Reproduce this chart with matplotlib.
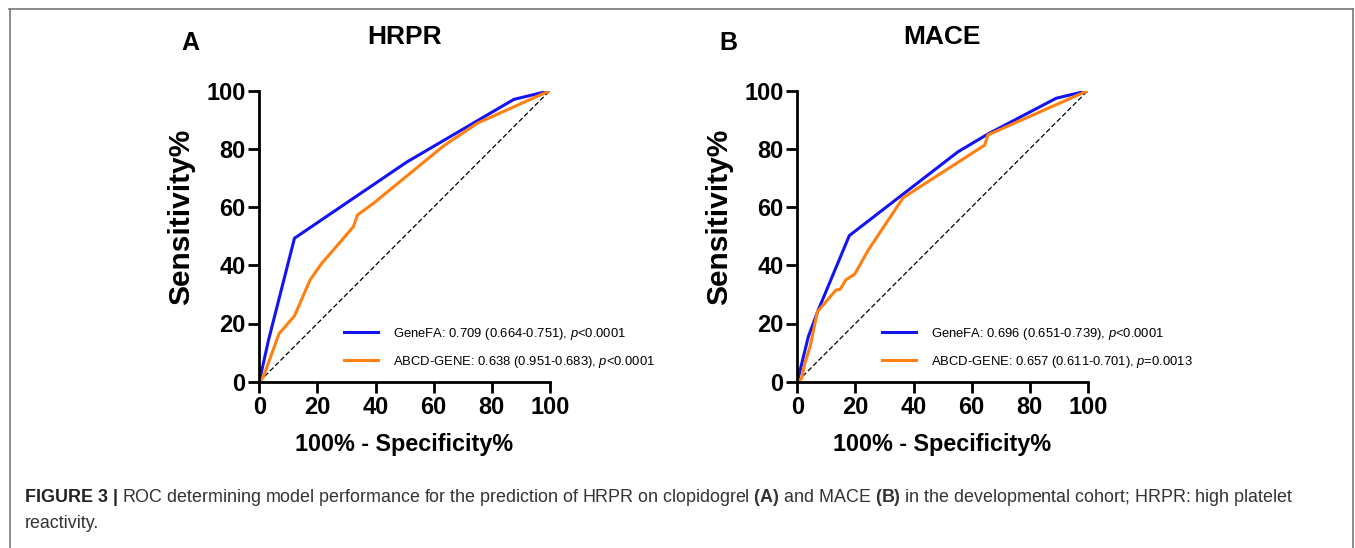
import matplotlib
matplotlib.use("Agg")
import matplotlib.pyplot as plt
from matplotlib.lines import Line2D

plt.rcParams['font.family'] = ['Liberation Sans', 'DejaVu Sans']
plt.rcParams['mathtext.fontset'] = 'custom'
plt.rcParams['mathtext.rm'] = 'Liberation Sans'
plt.rcParams['mathtext.it'] = 'Liberation Sans:italic'
plt.rcParams['mathtext.bf'] = 'Liberation Sans:bold'

# ROC curves (x = 100% - specificity, y = sensitivity)
hrpr_genefa_x = [0, 3.1, 12.1, 50.8, 87.6, 100]
hrpr_genefa_y = [0, 14, 49.3, 75.5, 97, 100]
hrpr_abcd_x = [0, 1.4, 6.8, 12.1, 17.5, 21.5, 27, 32.4, 33.8, 39.3, 63.4, 75, 100]
hrpr_abcd_y = [0, 1.7, 16.5, 22.6, 35, 40.7, 47, 53.3, 57.3, 61.3, 81, 88.8, 100]

mace_genefa_x = [0, 3.8, 7.2, 17.9, 55.3, 65.6, 89.1, 100]
mace_genefa_y = [0, 15.5, 24.6, 50.2, 79, 85.1, 97.4, 100]
mace_abcd_x = [0, 1.5, 2.6, 4.4, 6.9, 13.3, 14.7, 16.7, 19.8, 24.4, 36.4, 64.5, 65.6, 100]
mace_abcd_y = [0, 1.1, 6.3, 12, 24, 31.5, 31.7, 35, 37, 45.2, 63.2, 81.3, 84.8, 100]

ticks = [0, 20, 40, 60, 80, 100]

panels = [
    ("A", "HRPR", hrpr_genefa_x, hrpr_genefa_y, hrpr_abcd_x, hrpr_abcd_y,
     "GeneFA: 0.709 (0.664-0.751), $p$<0.0001",
     "ABCD-GENE: 0.638 (0.951-0.683), $p$<0.0001"),
    ("B", "MACE", mace_genefa_x, mace_genefa_y, mace_abcd_x, mace_abcd_y,
     "GeneFA: 0.696 (0.651-0.739), $p$<0.0001",
     "ABCD-GENE: 0.657 (0.611-0.701), $p$=0.0013"),
]

W, H = 1355, 548
fig = plt.figure(figsize=(W / 100, H / 100), dpi=100)

blue = '#1414f0'
orange = '#ff7f10'

lefts = [259.3, 797.3]
for i, (letter, title, gx, gy, ax_, ay, lab1, lab2) in enumerate(panels):
    left = lefts[i]
    ax = fig.add_axes([left / W, (H - 381.7) / H, 290.5 / W, 291 / H])
    ax.plot([0, 100], [0, 100], color='black', lw=0.9, ls=(0, (4, 2)))
    ax.plot(gx, gy, color=blue, lw=2.2, label=lab1)
    ax.plot(ax_, ay, color=orange, lw=2.2, label=lab2)
    ax.set_xlim(0, 100)
    ax.set_ylim(0, 100)
    ax.set_xticks(ticks)
    ax.set_yticks(ticks)
    for s in ['top', 'right']:
        ax.spines[s].set_visible(False)
    for s in ['left', 'bottom']:
        ax.spines[s].set_linewidth(2.0)
    ax.tick_params(direction='out', length=8, width=2.0, labelsize=17, pad=2)
    for t in ax.get_xticklabels() + ax.get_yticklabels():
        t.set_fontweight('bold')
    leg = ax.legend(loc='lower left', bbox_to_anchor=(0.25, 0.0), frameon=False,
                    fontsize=9.4, handlelength=2.6, handletextpad=1.2, labelspacing=0.95)
    for ln in leg.get_lines():
        ln.set_linewidth(2.2)
    cx = left + 145
    fig.text(cx / W, 1 - 444 / H, "100% - Specificity%", ha='center', va='center',
             fontsize=16.8, fontweight='bold')
    fig.text((left - 78) / W, 1 - 217 / H, "Sensitivity%", ha='center', va='center',
             rotation=90, fontsize=21.5, fontweight='bold')
    fig.text(cx / W, 1 - 37.5 / H, title, ha='center', va='center', fontsize=19, fontweight='bold')
    fig.text((left - 69) / W, 1 - 43 / H, letter, ha='center', va='center', fontsize=18, fontweight='bold')

# caption
renderer = fig.canvas.get_renderer()
cap1 = fig.text(25 / W, 1 - 497 / H, "FIGURE 3 |", ha='left', va='center',
                fontsize=12.85, fontweight='bold', color='#222222')
bb = cap1.get_window_extent(renderer)
fig.text((bb.x1 + 4) / W, 1 - 497 / H,
         "ROC determining model performance for the prediction of HRPR on clopidogrel "
         "$\\bf{(A)}$ and MACE $\\bf{(B)}$ in the developmental cohort; HRPR: high platelet",
         ha='left', va='center', fontsize=12.85, color='#333333')
fig.text(25 / W, 1 - 523 / H, "reactivity.", ha='left', va='center', fontsize=12.85, color='#333333')

# frame
frame_kw = dict(color='#777777', lw=1.2, transform=fig.transFigure)
fig.add_artist(Line2D([9 / W, 1353 / W], [1 - 8.5 / H, 1 - 8.5 / H], **frame_kw))
fig.add_artist(Line2D([9.5 / W, 9.5 / W], [0, 1 - 8.5 / H], **frame_kw))
fig.add_artist(Line2D([1353 / W, 1353 / W], [0, 1 - 8.5 / H], **frame_kw))

fig.savefig("out.png", dpi=100)
